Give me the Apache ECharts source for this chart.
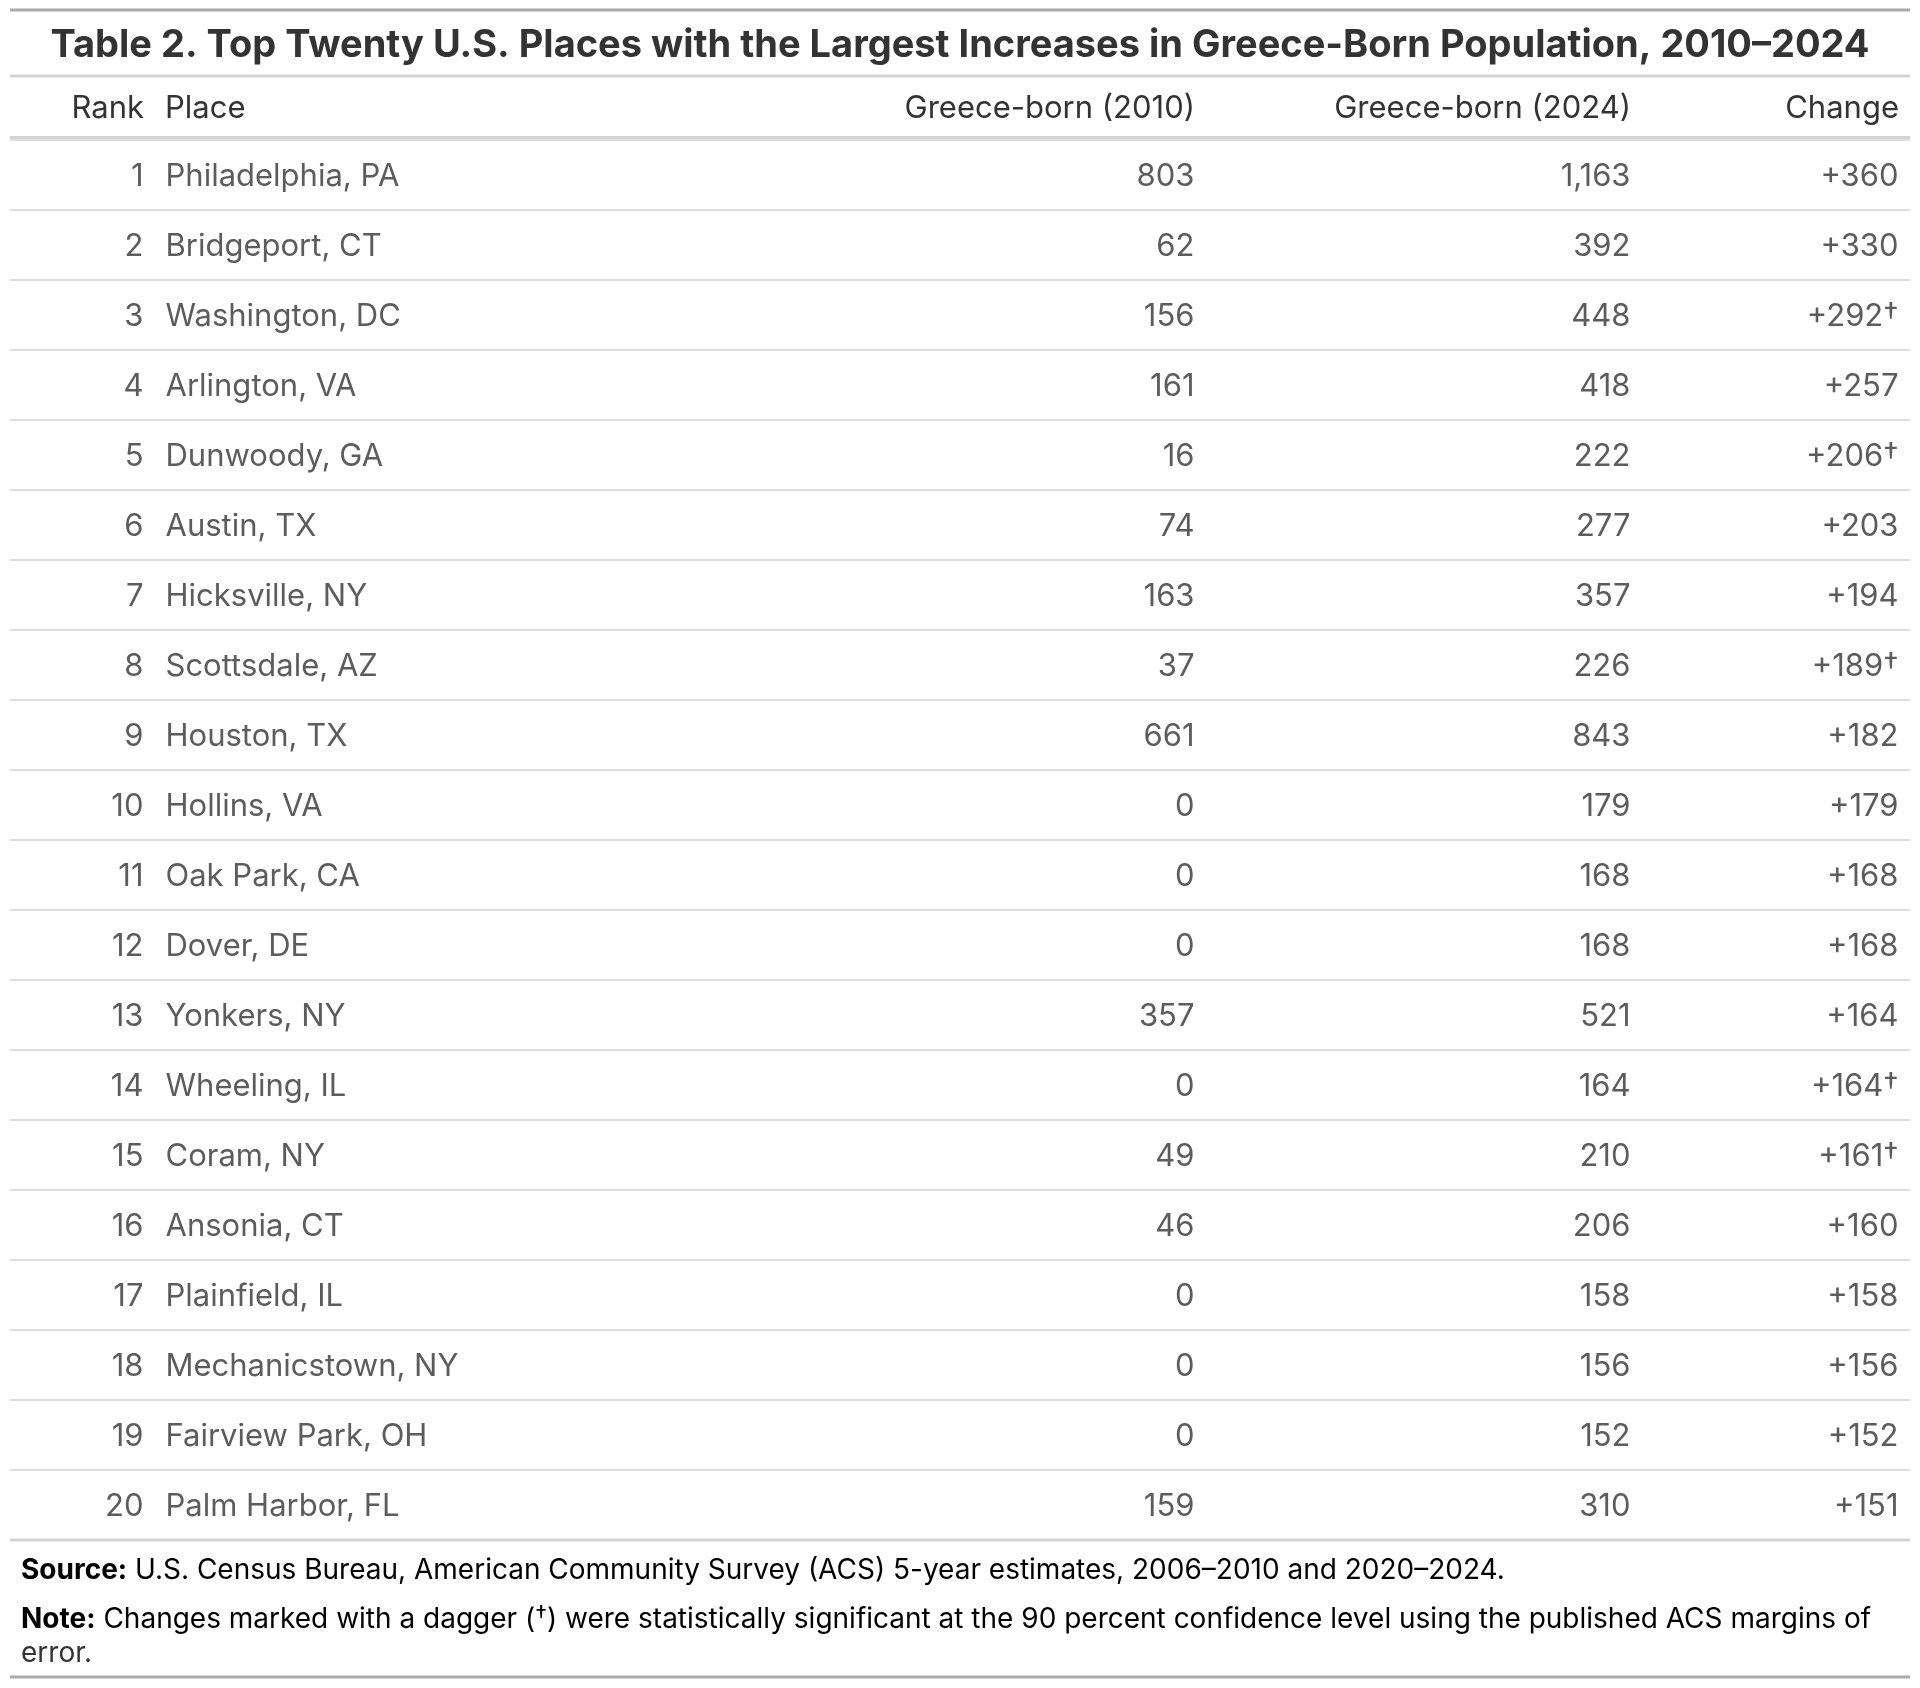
<!DOCTYPE html>
<html>
<head>
<meta charset="utf-8">
<script src="https://cdn.jsdelivr.net/npm/echarts@6/dist/echarts.min.js"></script>
<style>
  html, body { margin: 0; padding: 0; background: #fff; }
  #chart { width: 1920px; height: 1688px; }
</style>
</head>
<body>
<div id="chart"></div>
<script>
var ranks = ['1', '2', '3', '4', '5', '6', '7', '8', '9', '10',
             '11', '12', '13', '14', '15', '16', '17', '18', '19', '20'];
var places = ['Philadelphia, PA', 'Bridgeport, CT', 'Washington, DC', 'Arlington, VA', 'Dunwoody, GA',
              'Austin, TX', 'Hicksville, NY', 'Scottsdale, AZ', 'Houston, TX', 'Hollins, VA',
              'Oak Park, CA', 'Dover, DE', 'Yonkers, NY', 'Wheeling, IL', 'Coram, NY',
              'Ansonia, CT', 'Plainfield, IL', 'Mechanicstown, NY', 'Fairview Park, OH', 'Palm Harbor, FL'];
var born2010 = [803, 62, 156, 161, 16, 74, 163, 37, 661, 0, 0, 0, 357, 0, 49, 46, 0, 0, 0, 159];
var born2024 = [1163, 392, 448, 418, 222, 277, 357, 226, 843, 179, 168, 168, 521, 164, 210, 206, 158, 156, 152, 310];
var change = [360, 330, 292, 257, 206, 203, 194, 189, 182, 179, 168, 168, 164, 164, 161, 160, 158, 156, 152, 151];
var significant = [false, false, true, false, true, false, false, true, false, false,
                   false, false, false, true, true, false, false, false, false, false];
var headers = ['Rank', 'Place', 'Greece-born (2010)', 'Greece-born (2024)', 'Change'];

var titleText = 'Table 2. Top Twenty U.S. Places with the Largest Increases in Greece-Born Population, 2010\u20132024';
var sourceText = ' U.S. Census Bureau, American Community Survey (ACS) 5-year estimates, 2006\u20132010 and 2020\u20132024.';
var noteText1 = ' Changes marked with a dagger (';
var noteText2 = ') were statistically significant at the 90 percent confidence level using the published ACS margins of';
var noteText3 = 'error.';

// column anchors in grid x units (grid starts at 10px)
var col = { rank: 134, place: 155, b2010: 1185, b2024: 1621, change: 1889 };
var FONT = 'Inter, "Noto Sans", sans-serif';
var INK = '#333333';
var BODY = 31;
var NOTE = 28;

var fmt = function (v) { return v.toLocaleString('en-US'); };

var chart = echarts.init(document.getElementById('chart'));

var cellSeries = function (x, values, align, formatter) {
  return {
    type: 'scatter',
    symbolSize: 1,
    itemStyle: { color: 'rgba(0,0,0,0)' },
    silent: true,
    data: values.map(function (v, i) { return { value: [x, ranks[i]], raw: v, idx: i }; }),
    label: {
      show: true,
      position: align === 'right' ? 'left' : 'right',
      distance: 0,
      offset: [0, 2],
      color: INK,
      fontFamily: FONT,
      fontSize: BODY,
      formatter: formatter,
      rich: {
        n: { fontFamily: FONT, fontSize: BODY, lineHeight: 34, color: INK },
        d: { fontFamily: FONT, fontSize: 31, lineHeight: 22, verticalAlign: 'top', color: INK }
      }
    }
  };
};

var headerText = function (i, x, align) {
  return { type: 'text', x: 10 + x, y: 109, style: {
    text: headers[i], fill: INK, font: BODY + 'px ' + FONT, textAlign: align, textVerticalAlign: 'middle' } };
};

var option = {
  animation: false,
  backgroundColor: '#fff',
  grid: { left: 10, right: 10, top: 140, height: 1400 },
  xAxis: {
    type: 'value', min: 0, max: 1900,
    show: false
  },
  yAxis: {
    type: 'category',
    data: ranks,
    inverse: true,
    axisLine: { show: false },
    axisTick: { show: false },
    axisLabel: { show: false },
    splitLine: { show: true, lineStyle: { color: '#d3d3d3', width: 1.5 } }
  },
  series: [
    cellSeries(col.rank, ranks, 'right', function (p) { return p.data.raw; }),
    cellSeries(col.place, places, 'left', function (p) { return p.data.raw; }),
    cellSeries(col.b2010, born2010, 'right', function (p) { return fmt(p.data.raw); }),
    cellSeries(col.b2024, born2024, 'right', function (p) { return fmt(p.data.raw); }),
    cellSeries(col.change, change, 'right', function (p) {
      var s = '{n|+' + fmt(p.data.raw) + '}';
      return significant[p.data.idx] ? s + '{d|\u2020}' : s;
    })
  ],
  graphic: [
    // rules
    { type: 'rect', shape: { x: 10, y: 8.5, width: 1900, height: 3 }, style: { fill: '#aaaaaa' } },
    { type: 'rect', shape: { x: 10, y: 74.5, width: 1900, height: 3 }, style: { fill: '#d3d3d3' } },
    { type: 'rect', shape: { x: 10, y: 136, width: 1900, height: 3 }, style: { fill: '#d3d3d3' } },
    { type: 'rect', shape: { x: 10, y: 1538.5, width: 1900, height: 3 }, style: { fill: '#d3d3d3' } },
    { type: 'rect', shape: { x: 10, y: 1675.5, width: 1900, height: 3 }, style: { fill: '#aaaaaa' } },
    // title
    { type: 'text', x: 960, y: 46, style: {
        text: titleText, fill: INK, font: 'bold 38px ' + FONT, textAlign: 'center', textVerticalAlign: 'middle' } },
    // headers
    headerText(0, col.rank, 'right'),
    headerText(1, col.place, 'left'),
    headerText(2, col.b2010, 'right'),
    headerText(3, col.b2024, 'right'),
    headerText(4, col.change, 'right'),
    // source and note
    { type: 'text', x: 21, y: 1571, style: {
        text: '{b|Source:}{r|' + sourceText + '}',
        textVerticalAlign: 'middle',
        rich: {
          b: { fontFamily: FONT, fontWeight: 'bold', fontSize: NOTE, color: INK },
          r: { fontFamily: FONT, fontSize: NOTE, color: INK }
        } } },
    { type: 'text', x: 21, y: 1620, style: {
        text: '{b|Note:}{r|' + noteText1 + '}{d|\u2020}{r|' + noteText2 + '}',
        textVerticalAlign: 'middle',
        rich: {
          b: { fontFamily: FONT, fontWeight: 'bold', fontSize: NOTE, lineHeight: 32, color: INK },
          r: { fontFamily: FONT, fontSize: NOTE, lineHeight: 32, color: INK },
          d: { fontFamily: FONT, fontSize: 24, lineHeight: 20, verticalAlign: 'top', color: INK }
        } } },
    { type: 'text', x: 21, y: 1654, style: {
        text: noteText3, fill: INK, font: NOTE + 'px ' + FONT, textVerticalAlign: 'middle' } }
  ]
};

chart.setOption(option);
</script>
</body>
</html>
